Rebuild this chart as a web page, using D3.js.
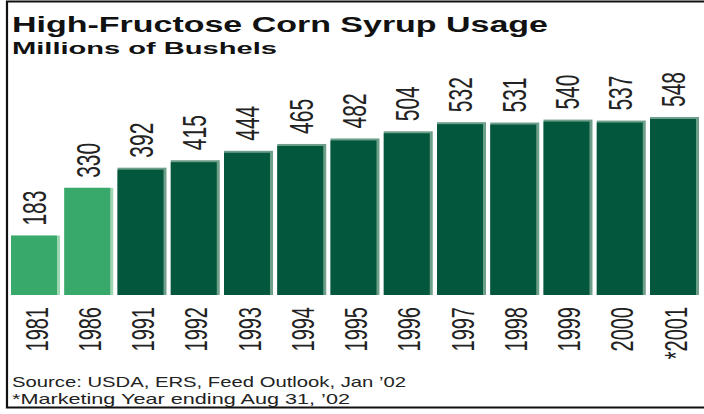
<!DOCTYPE html>
<html>
<head>
<meta charset="utf-8">
<script src="https://cdn.jsdelivr.net/npm/d3@7/dist/d3.min.js"></script>
<style>
  body { margin: 0; background: #fff; }
  svg { display: block; font-family: "Liberation Sans", Arial, sans-serif; }
</style>
</head>
<body>
<svg id="chart" width="704" height="414"></svg>
<script>
// data
var years = ['1981', '1986', '1991', '1992', '1993', '1994', '1995', '1996', '1997', '1998', '1999', '2000', '*2001'];
var usage = [183, 330, 392, 415, 444, 465, 482, 504, 532, 531, 540, 537, 548];
var lightYears = ['1981', '1986'];

var title = 'High-Fructose Corn Syrup Usage';
var subtitle = 'Millions of Bushels';
var notes = ['Source: USDA, ERS, Feed Outlook, Jan \u201902', '*Marketing Year ending Aug 31, \u201902'];

var svg = d3.select('#chart');

var x = d3.scaleBand()
    .domain(years)
    .range([11, 699])
    .paddingInner(0.08)
    .paddingOuter(0);

var y = d3.scaleLinear()
    .domain([0, 548])
    .range([295, 117]);

var data = years.map(function(d, i) { return {year: d, value: usage[i]}; });

function isLight(d) { return lightYears.indexOf(d.year) >= 0; }

// frame (open on the right side)
svg.append('path')
    .attr('d', 'M704,1.5 H7 V407.5 H704')
    .attr('fill', 'none')
    .attr('stroke', '#111')
    .attr('stroke-width', 2.2);

svg.append('text')
    .attr('x', 12)
    .attr('y', 32)
    .attr('font-size', 22)
    .attr('font-weight', 'bold')
    .attr('fill', '#111')
    .attr('textLength', 536)
    .attr('lengthAdjust', 'spacingAndGlyphs')
    .text(title);

svg.append('text')
    .attr('x', 12)
    .attr('y', 54)
    .attr('font-size', 17)
    .attr('font-weight', 'bold')
    .attr('fill', '#111')
    .attr('textLength', 265)
    .attr('lengthAdjust', 'spacingAndGlyphs')
    .text(subtitle);

// soft edge behind each bar, like the scanned original
svg.selectAll('.bar-edge').data(data).enter()
    .append('rect')
    .attr('class', 'bar-edge')
    .attr('x', function(d) { return x(d.year); })
    .attr('y', function(d) { return y(d.value); })
    .attr('width', x.bandwidth())
    .attr('height', function(d) { return y(0) - y(d.value); })
    .attr('fill', function(d) { return isLight(d) ? '#9fd6b2' : '#6e9f8a'; });

svg.selectAll('.bar').data(data).enter()
    .append('rect')
    .attr('class', 'bar')
    .attr('x', function(d) { return x(d.year); })
    .attr('y', function(d) { return y(d.value) + (isLight(d) ? 0 : 2); })
    .attr('width', x.bandwidth() - 3)
    .attr('height', function(d) { return y(0) - y(d.value) - (isLight(d) ? 0 : 2); })
    .attr('fill', function(d) { return isLight(d) ? '#38a96a' : '#03573d'; });

svg.selectAll('.value-label').data(data).enter()
    .append('text')
    .attr('class', 'value-label')
    .attr('transform', function(d) {
        return 'translate(' + (x(d.year) + x.bandwidth() / 2 - 1) + ',' + (y(d.value) - 10) + ') scale(1.6,1) rotate(-90)';
    })
    .attr('dy', '0.35em')
    .attr('text-anchor', 'start')
    .attr('font-size', 21)
    .attr('fill', '#222')
    .text(function(d) { return d.value; });

svg.selectAll('.year-label').data(data).enter()
    .append('text')
    .attr('class', 'year-label')
    .attr('transform', function(d) {
        return 'translate(' + (x(d.year) + x.bandwidth() / 2 + 1) + ',307) scale(1.6,1) rotate(-90)';
    })
    .attr('dy', '0.35em')
    .attr('text-anchor', 'end')
    .attr('font-size', 20)
    .attr('fill', '#222')
    .text(function(d) { return d.year; });

svg.selectAll('.note').data(notes).enter()
    .append('text')
    .attr('class', 'note')
    .attr('x', 12)
    .attr('y', function(d, i) { return 387 + i * 17; })
    .attr('font-size', 15)
    .attr('fill', '#222')
    .attr('textLength', function(d, i) { return i === 0 ? 394 : 338; })
    .attr('lengthAdjust', 'spacingAndGlyphs')
    .text(function(d) { return d; });
</script>
</body>
</html>
